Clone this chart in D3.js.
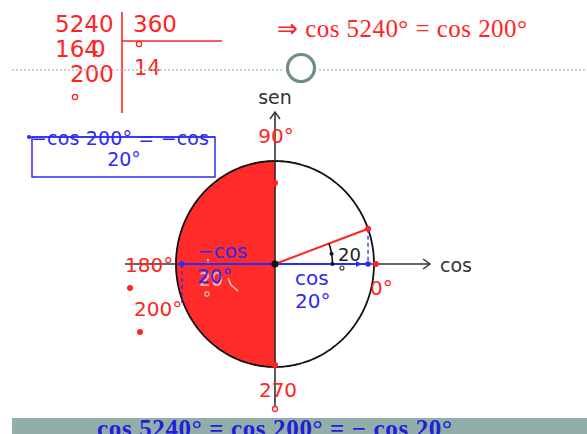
<!DOCTYPE html>
<html><head><meta charset="utf-8">
<script src="https://cdn.jsdelivr.net/npm/d3@7"></script>
<style>html,body{margin:0;padding:0;background:#fff;}svg{display:block;}</style>
</head><body>
<svg id="c" width="587" height="434"></svg>
<script>
// ---- data ----
const dividend = "5240";
const divisor = "360";
const partial = "164";
const remainder = "200";
const quotient = "14";
const reducedAngle = 200;     // degrees
const refAngle = 20;          // reference angle, degrees
const shadedRange = [90, 270]; // shaded half of the circle
const quadrantLabels = [
  {text: "90°",  angle: 90},
  {text: "180°", angle: 180},
  {text: "270",  angle: 270},
  {text: "0°",   angle: 0},
  {text: "200°", angle: 200}
];
const topFormula = "⇒ cos 5240° = cos 200°";
const boxLines = ["−cos 200° = −cos", "20°"];
const bottomFormula = "cos 5240° = cos 200° = − cos 20°";

// ---- scales ----
const svg = d3.select("#c");
const x = d3.scaleLinear().domain([-1, 1]).range([176, 374]);
const y = d3.scaleLinear().domain([-1, 1]).range([367, 161]);
const rad = d => d * Math.PI / 180;
const P = (deg, r = 1) => [x(r * Math.cos(rad(deg))), y(r * Math.sin(rad(deg)))];

const RED = "#ff2424", BLUE = "#2b2bf5", AX = "#333";

// ---- top left division ----
const g1 = svg.append("g").attr("fill", RED).style("font-family", "DejaVu Sans").style("font-size", "23px");
g1.append("text").attr("x", 55).attr("y", 32).text(dividend);
g1.append("text").attr("x", 133).attr("y", 32).text(divisor);
g1.append("text").attr("x", 55).attr("y", 57).text(partial);
g1.append("text").attr("x", 91).attr("y", 57).text("0");
g1.append("text").attr("x", 70).attr("y", 82).text(remainder);
g1.append("text").attr("x", 134).attr("y", 75).style("font-size", "21px").text(quotient);
svg.append("line").attr("x1", 122).attr("x2", 122).attr("y1", 12).attr("y2", 113).attr("stroke", RED).attr("stroke-width", 1.6);
svg.append("line").attr("x1", 122).attr("x2", 222).attr("y1", 41).attr("y2", 41).attr("stroke", RED).attr("stroke-width", 1.6);
[[139, 44], [75, 97]].forEach(([a, b]) =>
  svg.append("circle").attr("cx", a).attr("cy", b).attr("r", 2.6).attr("fill", "none").attr("stroke", RED).attr("stroke-width", 1.3));

// ---- dotted line & ring ----
svg.append("line").attr("x1", 12).attr("x2", 284).attr("y1", 70).attr("y2", 70).attr("stroke", "#b2c4c4").attr("stroke-width", 1.3).attr("stroke-dasharray", "2,2");
svg.append("line").attr("x1", 319).attr("x2", 587).attr("y1", 70).attr("y2", 70).attr("stroke", "#b2c4c4").attr("stroke-width", 1.3).attr("stroke-dasharray", "2,2");
svg.append("circle").attr("cx", 301).attr("cy", 68).attr("r", 13.5).attr("fill", "none").attr("stroke", "#6e8c8a").attr("stroke-width", 3.2);

// ---- top right formula ----
svg.append("text").attr("x", 277).attr("y", 37).attr("fill", RED)
  .style("font-family", "Liberation Serif").style("font-size", "25px")
  .attr("textLength", 250).attr("lengthAdjust", "spacing").text(topFormula);

// ---- blue box ----
svg.append("rect").attr("x", 32).attr("y", 137).attr("width", 183).attr("height", 40)
  .attr("fill", "none").attr("stroke", BLUE).attr("stroke-width", 1.5);
svg.append("text").attr("x", 31).attr("y", 145).attr("fill", BLUE)
  .style("font-family", "DejaVu Sans").style("font-size", "19px")
  .attr("textLength", 178).attr("lengthAdjust", "spacing").text(boxLines[0]);
svg.append("line").attr("x1", 29).attr("x2", 215).attr("y1", 137).attr("y2", 137).attr("stroke", BLUE).attr("stroke-width", 1.5);
svg.append("circle").attr("cx", 29).attr("cy", 137).attr("r", 2).attr("fill", BLUE);
svg.append("text").attr("x", 124).attr("y", 166).attr("text-anchor", "middle").attr("fill", BLUE)
  .style("font-family", "DejaVu Sans").style("font-size", "19px").text(boxLines[1]);

// ---- shaded half disc ----
const line = d3.line();
const half = d3.range(shadedRange[0], shadedRange[1] + 0.5, 2).map(a => P(a));
svg.append("path").attr("d", line([[x(0), y(0)], ...half]) + "Z").attr("fill", "#ff2a2a").attr("stroke", "#ff2a2a").attr("stroke-width", 1);

// ---- circle ----
const full = d3.range(0, 361, 2).map(a => P(a));
svg.append("path").attr("d", line(full) + "Z").attr("fill", "none").attr("stroke", "#111").attr("stroke-width", 1.8);

// ---- axes ----
svg.append("line").attr("x1", 125).attr("x2", 430).attr("y1", y(0)).attr("y2", y(0)).attr("stroke", AX).attr("stroke-width", 1.6);
svg.append("path").attr("d", line([[423, y(0) - 5], [430, y(0)], [423, y(0) + 5]])).attr("fill", "none").attr("stroke", AX).attr("stroke-width", 1.4);
svg.append("line").attr("x1", x(0)).attr("x2", x(0)).attr("y1", 112).attr("y2", 408).attr("stroke", AX).attr("stroke-width", 1.6);
svg.append("path").attr("d", line([[x(0) - 5, 119], [x(0), 112], [x(0) + 5, 119]])).attr("fill", "none").attr("stroke", AX).attr("stroke-width", 1.4);
svg.append("text").attr("x", x(0)).attr("y", 104).attr("text-anchor", "middle").attr("fill", "#333")
  .style("font-family", "DejaVu Sans").style("font-size", "19px").text("sen");
svg.append("text").attr("x", 440).attr("y", 272).attr("fill", "#333")
  .style("font-family", "DejaVu Sans").style("font-size", "19px").text("cos");
svg.append("circle").attr("cx", x(0)).attr("cy", 409).attr("r", 2.5).attr("fill", "#fff").attr("stroke", RED).attr("stroke-width", 1.3);

// ---- quadrant labels ----
const lblPos = {90: [276, 143, "middle"], 180: [125, 272, "start"], 270: [278, 397, "middle"], 0: [370, 295, "start"], 200: [134, 316, "start"]};
quadrantLabels.forEach(d => {
  const [lx, ly, an] = lblPos[d.angle];
  svg.append("text").attr("x", lx).attr("y", ly).attr("text-anchor", an).attr("fill", RED)
    .style("font-family", "DejaVu Sans").style("font-size", "20px").text(d.text);
});

// ---- reference angle construction ----
const pRef = P(refAngle);
const pRed = P(reducedAngle);
// faint mirrored angle artifacts
svg.append("text").attr("x", 199).attr("y", 286).attr("fill", "rgba(255,225,225,0.75)")
  .style("font-family", "DejaVu Sans").style("font-size", "19px").text("20");
svg.append("circle").attr("cx", 207).attr("cy", 294).attr("r", 2.2).attr("fill", "none").attr("stroke", "rgba(255,230,230,0.8)").attr("stroke-width", 1.2);
svg.append("path").attr("d", line([[228, 278], [231, 285], [238, 291]])).attr("fill", "none").attr("stroke", "rgba(255,225,225,0.85)").attr("stroke-width", 1.5);
svg.append("line").attr("x1", 208).attr("x2", 208).attr("y1", 259).attr("y2", 266).attr("stroke", "rgba(255,220,220,0.9)").attr("stroke-width", 2).attr("stroke-dasharray", "2,1.5");

// blue cos segments
svg.append("line").attr("x1", x(-Math.cos(rad(refAngle)))).attr("x2", x(Math.cos(rad(refAngle)))).attr("y1", y(0)).attr("y2", y(0)).attr("stroke", BLUE).attr("stroke-width", 2.2);
svg.append("line").attr("x1", pRef[0]).attr("x2", pRef[0]).attr("y1", pRef[1]).attr("y2", y(0)).attr("stroke", BLUE).attr("stroke-width", 1.3).attr("stroke-dasharray", "4,3");
svg.append("line").attr("x1", pRed[0]).attr("x2", pRed[0]).attr("y1", y(0)).attr("y2", pRed[1] + 5).attr("stroke", BLUE).attr("stroke-width", 1.3).attr("stroke-dasharray", "4,3");
svg.append("path").attr("d", line([[pRef[0] - 12, y(0) - 3], [pRef[0] - 6, y(0)], [pRef[0] - 12, y(0) + 3]])).attr("fill", BLUE);
[[pRef[0], y(0)], [pRed[0], y(0)]].forEach(([a, b]) => svg.append("circle").attr("cx", a).attr("cy", b).attr("r", 2.8).attr("fill", BLUE));

// red radius
svg.append("line").attr("x1", x(0)).attr("y1", y(0)).attr("x2", pRef[0]).attr("y2", pRef[1]).attr("stroke", RED).attr("stroke-width", 2);

// angle arc
const arcPts = d3.range(0, refAngle + 0.1, 1).map(a => P(a, 0.58));
svg.append("path").attr("d", line(arcPts)).attr("fill", "none").attr("stroke", "#111").attr("stroke-width", 1.6);
[P(refAngle * 0.5, 0.58), P(0, 0.58)].forEach(([a, b]) => svg.append("circle").attr("cx", a).attr("cy", b).attr("r", 2).attr("fill", "#111"));
svg.append("text").attr("x", 338).attr("y", 261).attr("fill", "#222")
  .style("font-family", "DejaVu Sans").style("font-size", "18px").text(String(refAngle));
svg.append("circle").attr("cx", 342).attr("cy", 268).attr("r", 2).attr("fill", "none").attr("stroke", "#333").attr("stroke-width", 1.1);

// red points
[pRef, P(0, 1.02), [x(0), 183], [x(0), 365], [130, 288], [140, 332]].forEach(([a, b]) =>
  svg.append("circle").attr("cx", a).attr("cy", b).attr("r", 3).attr("fill", RED));
// centre
svg.append("circle").attr("cx", x(0)).attr("cy", y(0)).attr("r", 3.6).attr("fill", "#111");

// blue labels
const bl = svg.append("g").attr("fill", BLUE).style("font-family", "DejaVu Sans").style("font-size", "20px");
bl.append("text").attr("x", 197).attr("y", 258).text("−cos");
bl.append("text").attr("x", 197).attr("y", 283).text("20°");
bl.append("text").attr("x", 295).attr("y", 285).text("cos");
bl.append("text").attr("x", 295).attr("y", 308).text("20°");

// ---- bottom banner ----
svg.append("rect").attr("x", 12).attr("y", 418).attr("width", 575).attr("height", 16).attr("fill", "#92aeab");
svg.append("text").attr("x", 97).attr("y", 437).attr("fill", "#2020d8")
  .style("font-family", "Liberation Serif").style("font-size", "25px").style("font-weight", "bold")
  .attr("textLength", 355).attr("lengthAdjust", "spacing").text(bottomFormula);
</script>
</body></html>
